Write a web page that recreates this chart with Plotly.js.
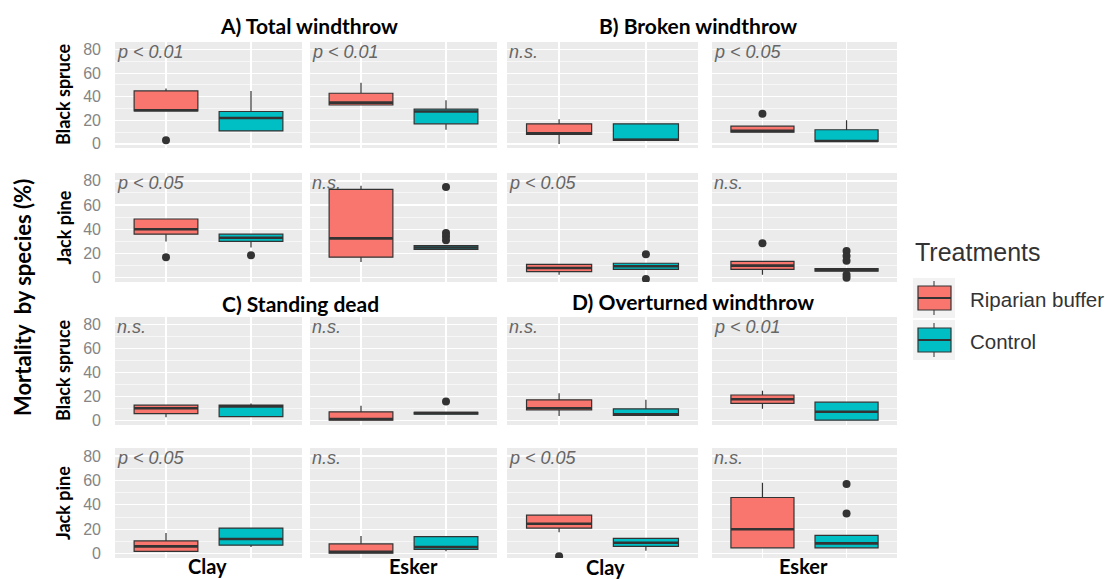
<!DOCTYPE html>
<html><head><meta charset="utf-8">
<script src="https://cdn.plot.ly/plotly-3.0.1.min.js"></script>
<style>html,body{margin:0;padding:0;background:#fff}#chart{width:1105px;height:579px}</style>
</head><body><div id="chart"></div>
<script>
// ---------- DATA ----------
const treatments = ['Riparian buffer', 'Control'];
const sites = ['Clay', 'Esker'];
const species = ['Black spruce', 'Jack pine'];
const mortalityTypes = ['A) Total windthrow', 'B) Broken windthrow', 'C) Standing dead', 'D) Overturned windthrow'];
const yTicks = [0, 20, 40, 60, 80];

// 16 panels, row-major over the 4x4 grid:
// row1: A-BS-Clay, A-BS-Esker, B-BS-Clay, B-BS-Esker
// row2: A-JP-Clay, A-JP-Esker, B-JP-Clay, B-JP-Esker
// row3: C-BS-Clay, C-BS-Esker, D-BS-Clay, D-BS-Esker
// row4: C-JP-Clay, C-JP-Esker, D-JP-Clay, D-JP-Esker
const pLabels = [
  'p < 0.01', 'p < 0.01', 'n.s.', 'p < 0.05',
  'p < 0.05', 'n.s.', 'p < 0.05', 'n.s.',
  'n.s.', 'n.s.', 'n.s.', 'p < 0.01',
  'p < 0.05', 'n.s.', 'p < 0.05', 'n.s.'
];

// Riparian buffer
const ripLower  = [28, 33, 0,  10, 30, 13, 2.5, 2.5, 3,  0.5, 4,  10, 2,  0.5, 17.5, 4.8];
const ripQ1     = [28, 33, 8,  10, 36, 17, 5,   7,   6,  0.5, 9,  14.5, 2, 0.5, 21, 4.8];
const ripMedian = [28.5, 35, 9, 11, 40, 32.5, 8, 10, 10.5, 1.5, 10.5, 18, 6, 1.5, 24.5, 20];
const ripQ3     = [45, 43, 17, 15, 48.5, 73, 11, 13.5, 13, 7.5, 17.5, 21.5, 10.5, 8, 31.5, 46];
const ripUpper  = [47, 52, 21, 15, 48.5, 76, 11, 13.5, 13, 12.5, 23, 25, 17, 14.5, 31.5, 58];
const ripOutliers = [[3], [], [], [25.5], [17], [], [], [28.5], [], [], [], [], [], [], [-2], []];

// Control
const ctlLower  = [11, 12, 3,  2,  25, 23, 7,  5,   3.5, 5.5, 4.5, 0.5, 5.5, 2,  2.5, 4.8];
const ctlQ1     = [11, 17, 3,  2,  30, 23.5, 7, 5.5, 3.5, 5.5, 4.5, 0.5, 7, 3.5, 6, 4.8];
const ctlMedian = [22, 27.5, 3.5, 2.5, 33, 25, 9.5, 6.5, 12, 6.5, 5.5, 7.5, 12, 5.5, 9, 8.5];
const ctlQ3     = [27.5, 29.5, 17, 12, 36, 26.5, 12, 7.5, 13, 7, 10, 15.5, 21, 14, 12.5, 15];
const ctlUpper  = [45, 37, 17, 20, 36, 27, 12, 8, 14.5, 7, 17.5, 15.5, 21, 14, 12.5, 15];
const ctlOutliers = [[], [], [], [], [18.5], [75, 37, 34, 31], [19.5, -1], [22, 18, 14, 2.5, 0],
                     [], [16], [], [], [], [], [], [57, 33]];

// ---------- STYLE / LAYOUT ----------
const W = 1105, H = 579;
const colLeft = [115, 310, 507, 712], colRight = [302, 497, 698, 897];
const rowTop = [42, 173, 317, 448], rowBottom = [148, 282, 425, 558];
const fillColors = ['#F8766D', '#00BFC4'];
const boxWidth = 0.75;
const lineCol = '#333333';
const boldFam = 'Lato, "Open Sans", sans-serif';
const sansFam = '"Liberation Sans", Arial, sans-serif';
const titleFont = {family: boldFam, size: 21, color: '#000'};

const traces = [];
const layout = {
  width: W, height: H,
  margin: {l: 0, r: 0, t: 0, b: 0},
  paper_bgcolor: '#ffffff',
  plot_bgcolor: '#EBEBEB',
  showlegend: false,
  annotations: [],
  shapes: []
};

const stats = [
  {lo: ripLower, q1: ripQ1, med: ripMedian, q3: ripQ3, hi: ripUpper, out: ripOutliers},
  {lo: ctlLower, q1: ctlQ1, med: ctlMedian, q3: ctlQ3, hi: ctlUpper, out: ctlOutliers}
];

for (let i = 0; i < 16; i++) {
  const r = Math.floor(i / 4), c = i % 4;
  const n = i + 1, s = n === 1 ? '' : String(n);
  const xa = 'x' + s, ya = 'y' + s;
  layout['xaxis' + s] = {
    domain: [colLeft[c] / W, colRight[c] / W],
    range: [0.4, 2.6],
    tickmode: 'array', tickvals: [1, 2], showticklabels: false, ticks: '',
    showgrid: true, gridcolor: '#FFFFFF', gridwidth: 1.3,
    zeroline: false, showline: false, fixedrange: true, anchor: ya
  };
  layout['yaxis' + s] = {
    domain: [1 - rowBottom[r] / H, 1 - rowTop[r] / H],
    range: [-3.5, 86.5],
    tickmode: 'array', tickvals: yTicks, ticktext: yTicks.map(String),
    showticklabels: c === 0, ticks: '', ticklabelstandoff: 13,
    tickfont: {family: sansFam, size: 16, color: '#858585'},
    showgrid: true, gridcolor: '#FFFFFF', gridwidth: 1.3,
    minor: {tickmode: 'array', tickvals: [10, 30, 50, 70], showgrid: true, gridcolor: '#FFFFFF', gridwidth: 0.6, ticks: ''},
    zeroline: false, showline: false, fixedrange: true, anchor: xa
  };
  stats.forEach((st, t) => {
    const pos = t + 1;
    traces.push({
      type: 'box', orientation: 'v', name: treatments[t],
      x: [pos], q1: [st.q1[i]], median: [st.med[i]], q3: [st.q3[i]],
      lowerfence: [st.lo[i]], upperfence: [st.hi[i]],
      width: boxWidth, whiskerwidth: 0, boxpoints: false,
      fillcolor: fillColors[t], line: {color: lineCol, width: 1.2},
      xaxis: xa, yaxis: ya, hoverinfo: 'skip'
    });
    // thicker median (ggplot fatten)
    traces.push({
      type: 'scatter', mode: 'lines',
      x: [pos - boxWidth / 2, pos + boxWidth / 2], y: [st.med[i], st.med[i]],
      line: {color: lineCol, width: 2.6}, xaxis: xa, yaxis: ya, hoverinfo: 'skip'
    });
    if (st.out[i].length) {
      traces.push({
        type: 'scatter', mode: 'markers',
        x: st.out[i].map(() => pos), y: st.out[i],
        marker: {color: lineCol, size: 8}, xaxis: xa, yaxis: ya, hoverinfo: 'skip'
      });
    }
  });
  // p-value label
  layout.annotations.push({
    xref: xa + ' domain', yref: ya + ' domain', x: 0.0, y: 1.02,
    xanchor: 'left', yanchor: 'top', showarrow: false,
    text: '<i>' + pLabels[i] + '</i>',
    font: {family: sansFam, size: 18, color: '#666666'}
  });
}

// species row labels
const rowSpecies = [0, 1, 0, 1];
for (let r = 0; r < 4; r++) {
  const n = r * 4 + 1, s = n === 1 ? '' : String(n);
  layout.annotations.push({
    xref: 'paper', yref: 'y' + s + ' domain', x: 63 / W, y: 0.5,
    xanchor: 'center', yanchor: 'middle', textangle: -90, showarrow: false,
    text: '<b>' + species[rowSpecies[r]] + '</b>',
    font: {family: boldFam, size: 18, color: '#000'}
  });
}

// overall y title
layout.annotations.push({
  xref: 'paper', yref: 'paper', x: 22 / W, y: 1 - 298 / H,
  xanchor: 'center', yanchor: 'middle', textangle: -90, showarrow: false,
  text: '<b>Mortality  by species (%)</b>',
  font: {family: boldFam, size: 22, color: '#000'}
});

// mortality-type titles
const titlePos = [[309, 25], [698, 25], [300, 303], [693, 301]];
mortalityTypes.forEach((t, k) => {
  layout.annotations.push({
    xref: 'paper', yref: 'paper', x: titlePos[k][0] / W, y: 1 - titlePos[k][1] / H,
    xanchor: 'center', yanchor: 'middle', showarrow: false,
    text: '<b>' + t + '</b>', font: titleFont
  });
});

// site labels under columns
const sitePos = [[207, 566], [413, 566], [605, 567], [803, 566]];
sitePos.forEach((p, c) => {
  layout.annotations.push({
    xref: 'paper', yref: 'paper', x: p[0] / W, y: 1 - p[1] / H,
    xanchor: 'center', yanchor: 'middle', showarrow: false,
    text: '<b>' + sites[c % 2] + '</b>',
    font: {family: boldFam, size: 20, color: '#000'}
  });
});

// legend (ggplot-style)
layout.annotations.push({
  xref: 'paper', yref: 'paper', x: 913 / W, y: 1 - 252 / H,
  xanchor: 'left', yanchor: 'middle', showarrow: false,
  text: 'Treatments', font: {family: sansFam, size: 25, color: '#333'}
});
const keyTop = [278, 320];
treatments.forEach((t, k) => {
  const y0 = keyTop[k], y1 = y0 + 40;
  const px = v => v / W, py = v => 1 - v / H;
  layout.shapes.push({type: 'rect', xref: 'paper', yref: 'paper', x0: px(913), x1: px(955), y0: py(y1), y1: py(y0),
    fillcolor: '#F2F2F2', line: {width: 0}, layer: 'below'});
  layout.shapes.push({type: 'line', xref: 'paper', yref: 'paper', x0: px(934), x1: px(934), y0: py(y1 - 3), y1: py(y0 + 3),
    line: {color: lineCol, width: 1}});
  layout.shapes.push({type: 'rect', xref: 'paper', yref: 'paper', x0: px(918), x1: px(951), y0: py(y0 + 32), y1: py(y0 + 8),
    fillcolor: fillColors[k], line: {color: lineCol, width: 1.2}});
  layout.shapes.push({type: 'line', xref: 'paper', yref: 'paper', x0: px(918), x1: px(951), y0: py(y0 + 20), y1: py(y0 + 20),
    line: {color: lineCol, width: 2}});
  layout.annotations.push({
    xref: 'paper', yref: 'paper', x: 968 / W, y: py(y0 + 21),
    xanchor: 'left', yanchor: 'middle', showarrow: false,
    text: t, font: {family: sansFam, size: 20.5, color: '#333'}
  });
});

Plotly.newPlot('chart', traces, layout, {staticPlot: true, displayModeBar: false});
</script>
</body></html>
